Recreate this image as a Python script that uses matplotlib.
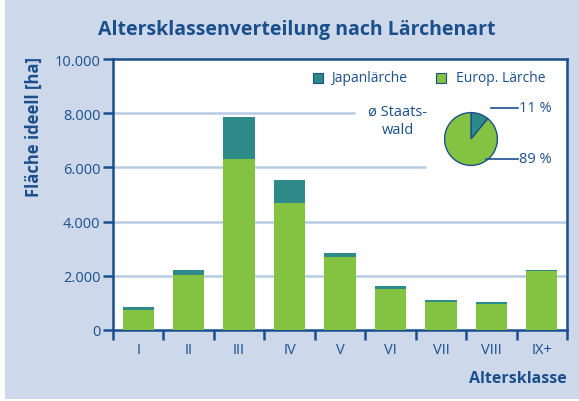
import matplotlib.pyplot as plt
from matplotlib.patches import Rectangle

plt.rcParams['font.family'] = ['Open Sans', 'DejaVu Sans']

# Daten
klassen = ["I", "II", "III", "IV", "V", "VI", "VII", "VIII", "IX+"]
europ = [750, 2040, 6310, 4690, 2690, 1525, 1045, 970, 2190]
japan = [88, 175, 1550, 845, 150, 100, 62, 63, 25]
yticks = [0, 2000, 4000, 6000, 8000, 10000]
ytick_labels = ["0", "2.000", "4.000", "6.000", "8.000", "10.000"]
pie_werte = [11, 89]
pie_labels = ["11 %", "89 %"]

dunkelblau = "#1b4f8c"
gruen = "#84c342"
teal = "#2e8a88"
hintergrund = "#cdd9ea"
gitter = "#b7cbe3"

fig = plt.figure(figsize=(5.79, 4.02), dpi=100)
fig.patches.append(Rectangle((5 / 579, 0.004), 1, 1, transform=fig.transFigure,
                             facecolor=hintergrund, edgecolor="none", zorder=-10))

ax = fig.add_axes([113 / 579, 1 - 331 / 402, 454 / 579, 271 / 402])
x = range(len(klassen))
ax.bar(x, europ, width=0.62, color=gruen, zorder=3)
ax.bar(x, japan, width=0.62, bottom=europ, color=teal, zorder=3)

ax.set_xlim(-0.5, len(klassen) - 0.5)
ax.set_ylim(0, 10000)

# Gitterlinien (oben rechts unterbrochen)
ax.hlines([2000, 4000], -0.5, len(klassen) - 0.5, color=gitter, lw=1.8, zorder=1)
ax.hlines(6000, -0.5, 5.7, color=gitter, lw=1.8, zorder=1)
ax.hlines(8000, -0.5, 4.3, color=gitter, lw=1.8, zorder=1)

for s in ax.spines.values():
    s.set_color(dunkelblau)
    s.set_linewidth(1.8)

ax.set_yticks(yticks)
ax.set_yticklabels(ytick_labels)
ax.tick_params(axis="y", direction="out", length=7, width=1.8, color=dunkelblau,
               labelcolor=dunkelblau, labelsize=10.5, pad=2)

ax.set_xticks([i - 0.5 for i in range(len(klassen) + 1)], minor=False)
ax.set_xticklabels([])
ax.set_xticks(list(x), minor=True)
ax.set_xticklabels(klassen, minor=True)
ax.tick_params(axis="x", which="major", direction="out", length=7, width=1.8,
               color=dunkelblau)
ax.tick_params(axis="x", which="minor", length=0, labelcolor=dunkelblau,
               labelsize=10.5, pad=9)

fig.text(0.513, 0.925, "Altersklassenverteilung nach Lärchenart", ha="center",
         va="center", fontsize=14, fontweight="bold", color=dunkelblau)
fig.text(34 / 579, 1 - 57 / 402, "Fläche ideell [ha]", rotation=90, ha="center",
         va="top", fontsize=12, fontweight="bold", color=dunkelblau)
fig.text(567 / 579, 1 - 379 / 402, "Altersklasse", ha="right", va="center",
         fontsize=11.5, fontweight="bold", color=dunkelblau)

# Legende
ax.add_patch(Rectangle((313 / 579, 1 - 84 / 402), 10 / 579, 10 / 402,
                       transform=fig.transFigure, facecolor=teal,
                       edgecolor=dunkelblau, lw=0.8, clip_on=False))
fig.text(331 / 579, 1 - 79 / 402, "Japanlärche", va="center", fontsize=10,
         color=dunkelblau)
ax.add_patch(Rectangle((436 / 579, 1 - 84 / 402), 10 / 579, 10 / 402,
                       transform=fig.transFigure, facecolor=gruen,
                       edgecolor=dunkelblau, lw=0.8, clip_on=False))
fig.text(456 / 579, 1 - 79 / 402, "Europ. Lärche", va="center", fontsize=10,
         color=dunkelblau)

fig.text(398 / 579, 1 - 121 / 402, "ø Staats-\nwald", ha="center", va="center",
         fontsize=10.5, color=dunkelblau, linespacing=1.3)

# Kreisdiagramm
pax = fig.add_axes([438 / 579, 1 - 173 / 402, 66 / 579, 66 / 402])
pax.pie(pie_werte, colors=[teal, gruen], startangle=90, counterclock=False,
        wedgeprops=dict(edgecolor=dunkelblau, linewidth=1.0))
pax.set_aspect("equal")
fig.add_artist(plt.Line2D([491 / 579, 518 / 579], [1 - 109 / 402, 1 - 109 / 402],
                          color=dunkelblau, lw=1.2))
fig.add_artist(plt.Line2D([486 / 579, 518 / 579], [1 - 160 / 402, 1 - 160 / 402],
                          color=dunkelblau, lw=1.2))
fig.text(519 / 579, 1 - 109 / 402, pie_labels[0], va="center", fontsize=10.5,
         color=dunkelblau)
fig.text(519 / 579, 1 - 160 / 402, pie_labels[1], va="center", fontsize=10.5,
         color=dunkelblau)

fig.savefig("out.png", dpi=100)
